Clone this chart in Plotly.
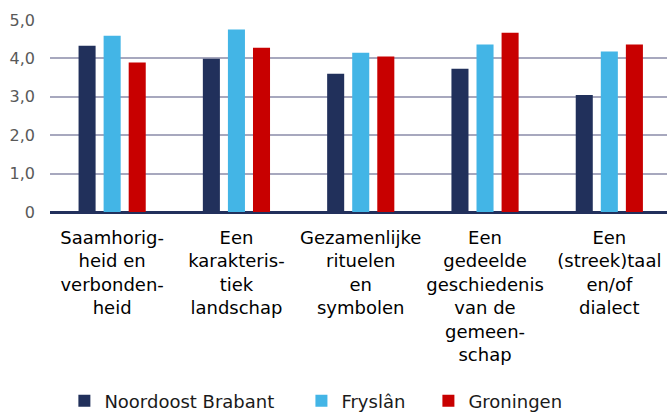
import plotly.graph_objects as go

categories = [
    "Saamhorig-<br>heid en<br>verbonden-<br>heid",
    "Een<br>karakteris-<br>tiek<br>landschap",
    "Gezamenlijke<br>rituelen<br>en<br>symbolen",
    "Een<br>gedeelde<br>geschiedenis<br>van de<br>gemeen-<br>schap",
    "Een<br>(streek)taal<br>en/of<br>dialect",
]
series_names = ["Noordoost Brabant", "Fryslân", "Groningen"]
noordoost_brabant = [4.33, 3.99, 3.60, 3.73, 3.05]
fryslan = [4.59, 4.75, 4.15, 4.36, 4.18]
groningen = [3.89, 4.28, 4.05, 4.67, 4.36]
tick_vals = [0, 1, 2, 3, 4, 5]
tick_text = ["0", "1,0", "2,0", "3,0", "4,0", "5,0"]

colors = ["#21305B", "#43B5E6", "#C80000"]
legend_ids = ["legend", "legend2", "legend3"]
legend_x = [0.0233, 0.4075, 0.6133]
FONT = "DejaVu Sans"

fig = go.Figure()
x_idx = list(range(len(categories)))
for name, vals, col, lid in zip(series_names, [noordoost_brabant, fryslan, groningen], colors, legend_ids):
    fig.add_trace(go.Bar(x=x_idx, y=vals, name=name, legend=lid,
                         marker=dict(color=col, line=dict(width=0)),
                         hoverinfo="y+name"))

legend_common = dict(orientation="h", xanchor="left", y=-0.984, yanchor="middle",
                     font=dict(family=FONT, size=18, color="#1a1a1a"),
                     bgcolor="rgba(0,0,0,0)")
fig.update_layout(
    width=667, height=412,
    margin=dict(l=50, r=0, t=20, b=200, autoexpand=False),
    paper_bgcolor="white", plot_bgcolor="white",
    barmode="group", bargap=0.395, bargroupgap=0.32,
    font=dict(family=FONT, color="#000000"),
    showlegend=True,
    legend=dict(x=legend_x[0], **legend_common),
    legend2=dict(x=legend_x[1], **legend_common),
    legend3=dict(x=legend_x[2], **legend_common),
)
fig.update_xaxes(
    tickmode="array", tickvals=x_idx, ticktext=categories,
    range=[-0.5, 4.464], showgrid=False, showline=False, zeroline=False,
    ticks="", tickfont=dict(family=FONT, size=18, color="#000000"),
    ticklabelstandoff=13, automargin=False, fixedrange=True,
)
fig.update_yaxes(
    range=[0, 5], tickmode="array", tickvals=tick_vals, ticktext=tick_text,
    showgrid=True, gridcolor="#A7A8BE", gridwidth=1.5,
    zeroline=True, zerolinecolor="#22305C", zerolinewidth=3,
    showline=False, ticks="", ticklabelstandoff=14,
    tickfont=dict(family=FONT, size=16, color="#595959"),
    automargin=False, fixedrange=True,
)
fig.write_html("out.html", config={"displayModeBar": False},
               post_script="document.body.style.margin='0';document.body.style.overflow='hidden';")
